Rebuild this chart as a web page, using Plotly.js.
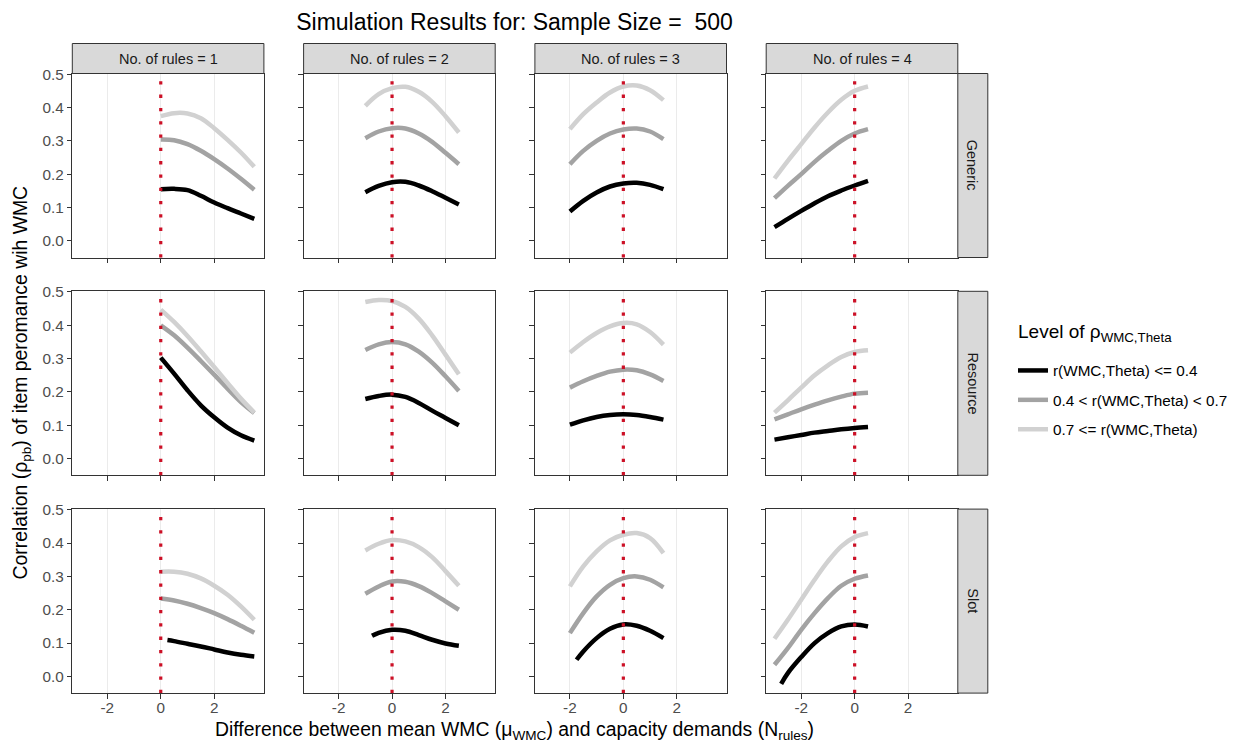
<!DOCTYPE html>
<html>
<head>
<meta charset="utf-8">
<script src="https://cdn.plot.ly/plotly-3.0.1.min.js"></script>
<style>html,body{margin:0;padding:0;background:#fff;}#chart{width:1239px;height:743px;}</style>
</head>
<body>
<div id="chart"></div>
<script>
// ---------- data ----------
const sampleSize = 500;
const rowNames = ['Generic', 'Resource', 'Slot'];
const ruleCounts = [1, 2, 3, 4];
const levelNames = ['r(WMC,Theta) <= 0.4', '0.4 < r(WMC,Theta) < 0.7', '0.7 <= r(WMC,Theta)'];
const levelColors = ['#000000', '#a3a3a3', '#d1d1d1'];
const xTickVals = [-2, 0, 2];
const xTickText = ['-2', '0', '2'];
const yTickVals = [0, 0.1, 0.2, 0.3, 0.4, 0.5];
const yTickText = ['0.0', '0.1', '0.2', '0.3', '0.4', '0.5'];
const capacityLine = 0;

// x grids per number of rules
const col1X = [0, 0.5, 1, 1.5, 2, 2.5, 3, 3.5];
const col2X = [-1, -0.5, 0, 0.5, 1, 1.5, 2, 2.5];
const col3X = [-2, -1.5, -1, -0.5, 0, 0.5, 1, 1.5];
const col4X = [-3, -2.5, -2, -1.5, -1, -0.5, 0, 0.5];
const slot1LowX = [0.25, 0.5, 1, 1.5, 2, 2.5, 3, 3.5];
const slot2LowX = [-0.75, -0.5, 0, 0.5, 1, 1.5, 2, 2.5];
const slot3LowX = [-1.75, -1.5, -1, -0.5, 0, 0.5, 1, 1.5];
const slot4LowX = [-2.75, -2.5, -2, -1.5, -1, -0.5, 0, 0.5];

// Generic
const gen1Low  = [0.155, 0.156, 0.152, 0.135, 0.115, 0.098, 0.082, 0.066];
const gen1Mid  = [0.304, 0.302, 0.290, 0.270, 0.245, 0.217, 0.186, 0.153];
const gen1High = [0.374, 0.383, 0.382, 0.368, 0.338, 0.303, 0.265, 0.222];
const gen2Low  = [0.146, 0.165, 0.176, 0.177, 0.166, 0.149, 0.129, 0.109];
const gen2Mid  = [0.308, 0.328, 0.338, 0.337, 0.322, 0.297, 0.264, 0.230];
const gen2High = [0.405, 0.440, 0.458, 0.462, 0.447, 0.417, 0.374, 0.325];
const gen3Low  = [0.088, 0.120, 0.145, 0.163, 0.172, 0.174, 0.168, 0.155];
const gen3Mid  = [0.230, 0.270, 0.300, 0.322, 0.334, 0.337, 0.328, 0.305];
const gen3High = [0.335, 0.380, 0.415, 0.445, 0.463, 0.466, 0.452, 0.422];
const gen4Low  = [0.041, 0.066, 0.090, 0.113, 0.134, 0.151, 0.166, 0.180];
const gen4Mid  = [0.128, 0.165, 0.200, 0.237, 0.270, 0.300, 0.322, 0.335];
const gen4High = [0.187, 0.240, 0.290, 0.340, 0.385, 0.423, 0.450, 0.463];
// Resource
const res1Low  = [0.303, 0.255, 0.205, 0.160, 0.124, 0.093, 0.070, 0.054];
const res1Mid  = [0.400, 0.370, 0.333, 0.293, 0.252, 0.210, 0.170, 0.137];
const res1High = [0.447, 0.410, 0.368, 0.322, 0.275, 0.227, 0.180, 0.138];
const res2Low  = [0.179, 0.188, 0.192, 0.185, 0.167, 0.144, 0.122, 0.100];
const res2Mid  = [0.326, 0.343, 0.350, 0.343, 0.321, 0.288, 0.247, 0.203];
const res2High = [0.470, 0.476, 0.473, 0.455, 0.420, 0.370, 0.312, 0.253];
const res3Low  = [0.102, 0.115, 0.125, 0.131, 0.133, 0.131, 0.125, 0.117];
const res3Mid  = [0.213, 0.232, 0.248, 0.261, 0.267, 0.265, 0.253, 0.233];
const res3High = [0.318, 0.350, 0.377, 0.397, 0.407, 0.403, 0.380, 0.342];
const res4Low  = [0.057, 0.064, 0.071, 0.078, 0.083, 0.088, 0.092, 0.095];
const res4Mid  = [0.118, 0.133, 0.148, 0.162, 0.175, 0.186, 0.195, 0.198];
const res4High = [0.138, 0.175, 0.213, 0.250, 0.280, 0.305, 0.320, 0.325];
// Slot
const slot1Low  = [0.109, 0.106, 0.098, 0.090, 0.081, 0.072, 0.065, 0.060];
const slot1Mid  = [0.234, 0.228, 0.218, 0.205, 0.190, 0.172, 0.152, 0.131];
const slot1High = [0.314, 0.314, 0.308, 0.294, 0.272, 0.245, 0.210, 0.170];
const slot2Low  = [0.122, 0.131, 0.140, 0.137, 0.124, 0.110, 0.099, 0.092];
const slot2Mid  = [0.248, 0.270, 0.285, 0.284, 0.271, 0.250, 0.225, 0.200];
const slot2High = [0.378, 0.398, 0.409, 0.405, 0.388, 0.358, 0.316, 0.272];
const slot3Low  = [0.050, 0.075, 0.115, 0.143, 0.156, 0.152, 0.137, 0.115];
const slot3Mid  = [0.130, 0.190, 0.240, 0.275, 0.295, 0.300, 0.290, 0.267];
const slot3High = [0.270, 0.330, 0.375, 0.408, 0.425, 0.430, 0.415, 0.370];
const slot4Low  = [-0.022, 0.010, 0.058, 0.100, 0.130, 0.150, 0.156, 0.150];
const slot4Mid  = [0.035, 0.085, 0.140, 0.190, 0.235, 0.272, 0.293, 0.303];
const slot4High = [0.113, 0.170, 0.230, 0.290, 0.345, 0.390, 0.418, 0.430];

// panel table built from the arrays above: [row][col] -> series
const panelData = [
  [
    {xs: [col1X, col1X, col1X], ys: [gen1Low, gen1Mid, gen1High]},
    {xs: [col2X, col2X, col2X], ys: [gen2Low, gen2Mid, gen2High]},
    {xs: [col3X, col3X, col3X], ys: [gen3Low, gen3Mid, gen3High]},
    {xs: [col4X, col4X, col4X], ys: [gen4Low, gen4Mid, gen4High]}
  ],
  [
    {xs: [col1X, col1X, col1X], ys: [res1Low, res1Mid, res1High]},
    {xs: [col2X, col2X, col2X], ys: [res2Low, res2Mid, res2High]},
    {xs: [col3X, col3X, col3X], ys: [res3Low, res3Mid, res3High]},
    {xs: [col4X, col4X, col4X], ys: [res4Low, res4Mid, res4High]}
  ],
  [
    {xs: [slot1LowX, col1X, col1X], ys: [slot1Low, slot1Mid, slot1High]},
    {xs: [slot2LowX, col2X, col2X], ys: [slot2Low, slot2Mid, slot2High]},
    {xs: [slot3LowX, col3X, col3X], ys: [slot3Low, slot3Mid, slot3High]},
    {xs: [slot4LowX, col4X, col4X], ys: [slot4Low, slot4Mid, slot4High]}
  ]
];

// ---------- layout geometry (pixels) ----------
const W = 1239, H = 743;
const FONT = '"Liberation Sans", Arial, Helvetica, sans-serif';
const panelLeft0 = 72.3, panelStepX = 231.3, panelW = 191.6;
const panelTop0 = 73.5, panelStepY = 217.8, panelH = 184;
const stripSize = 30;
const xRange = [-3.31, 3.86];
const yRange = [-0.05, 0.502];
const fx = p => p / W;
const fy = p => 1 - p / H;

const traces = [];
const shapes = [];
const annotations = [];
const layout = {
  width: W, height: H,
  margin: {l: 0, r: 0, t: 0, b: 0},
  paper_bgcolor: '#ffffff',
  plot_bgcolor: '#ffffff',
  font: {family: FONT, color: '#000000'},
  showlegend: true,
  title: {
    text: 'Simulation Results for: Sample Size = \u00a0' + sampleSize,
    x: fx(514.5), xanchor: 'center', xref: 'paper',
    y: fy(21.5), yanchor: 'middle', yref: 'container',
    font: {family: FONT, size: 23, color: '#000000'}
  },
  legend: {
    x: fx(1013), xanchor: 'left', y: fy(354), yanchor: 'top',
    bgcolor: 'rgba(0,0,0,0)',
    font: {family: FONT, size: 15.3, color: '#000000'},
    tracegroupgap: 6.5,
    itemwidth: 30
  }
};

for (let r = 0; r < 3; r++) {
  for (let c = 0; c < 4; c++) {
    const k = r * 4 + c + 1;
    const left = panelLeft0 + c * panelStepX;
    const top = panelTop0 + r * panelStepY;
    const xName = k === 1 ? 'xaxis' : 'xaxis' + k;
    const yName = k === 1 ? 'yaxis' : 'yaxis' + k;
    const xId = k === 1 ? 'x' : 'x' + k;
    const yId = k === 1 ? 'y' : 'y' + k;
    layout[xName] = {
      domain: [fx(left), fx(left + panelW)], anchor: yId,
      range: xRange, tickmode: 'array', tickvals: xTickVals, ticktext: xTickText,
      showticklabels: r === 2, ticks: 'outside', ticklen: 4.5, tickwidth: 1, tickcolor: '#333333',
      ticklabelstandoff: -4,
      tickfont: {family: FONT, size: 15.3, color: '#4d4d4d'},
      showline: true, linecolor: '#333333', linewidth: 1, mirror: true,
      showgrid: true, gridcolor: '#ebebeb', gridwidth: 1, zeroline: false, fixedrange: true
    };
    layout[yName] = {
      domain: [fy(top + panelH), fy(top)], anchor: xId,
      range: yRange, tickmode: 'array', tickvals: yTickVals, ticktext: yTickText,
      showticklabels: c === 0, ticks: 'outside', ticklen: 4.5, tickwidth: 1, tickcolor: '#333333',
      tickfont: {family: FONT, size: 15.3, color: '#4d4d4d'},
      showline: true, linecolor: '#333333', linewidth: 1, mirror: true,
      showgrid: false, zeroline: false, fixedrange: true
    };
    const pd = panelData[r][c];
    for (let s = 0; s < 3; s++) {
      traces.push({
        type: 'scatter', mode: 'lines',
        x: pd.xs[s], y: pd.ys[s],
        xaxis: xId, yaxis: yId,
        name: levelNames[s], legendgroup: 'g' + s, showlegend: k === 1,
        line: {color: levelColors[s], width: 4.5, shape: 'spline', smoothing: 1},
        hoverinfo: 'skip'
      });
    }
    // dotted reference line at zero difference
    shapes.push({
      type: 'line', xref: xId, yref: yId + ' domain',
      x0: capacityLine, x1: capacityLine, y0: 0, y1: 1,
      line: {color: '#cc1026', width: 3.2, dash: '3.3px,10px'}, layer: 'above'
    });
    // top strips
    if (r === 0) {
      shapes.push({
        type: 'rect', xref: 'paper', yref: 'paper',
        x0: fx(left), x1: fx(left + panelW), y0: fy(top), y1: fy(top - stripSize),
        fillcolor: '#d9d9d9', line: {color: '#333333', width: 1}
      });
      annotations.push({
        xref: 'paper', yref: 'paper', x: fx(left + panelW / 2), y: fy(top - stripSize / 2),
        xanchor: 'center', yanchor: 'middle', showarrow: false,
        text: 'No. of rules = ' + ruleCounts[c],
        font: {family: FONT, size: 14.5, color: '#1a1a1a'}
      });
    }
    // right strips
    if (c === 3) {
      shapes.push({
        type: 'rect', xref: 'paper', yref: 'paper',
        x0: fx(left + panelW), x1: fx(left + panelW + stripSize), y0: fy(top + panelH), y1: fy(top),
        fillcolor: '#d9d9d9', line: {color: '#333333', width: 1}
      });
      annotations.push({
        xref: 'paper', yref: 'paper', x: fx(left + panelW + stripSize / 2), y: fy(top + panelH / 2),
        xanchor: 'center', yanchor: 'middle', showarrow: false, textangle: 90,
        text: rowNames[r],
        font: {family: FONT, size: 14.5, color: '#1a1a1a'}
      });
    }
  }
}

// legend title
annotations.push({
  xref: 'paper', yref: 'paper', x: fx(1016), y: fy(333), xanchor: 'left', yanchor: 'middle',
  showarrow: false, text: 'Level of \u03c1<sub>WMC,Theta</sub>',
  font: {family: FONT, size: 19, color: '#000000'}
});
// axis titles
annotations.push({
  xref: 'paper', yref: 'paper', x: fx(514.5), y: fy(730), xanchor: 'center', yanchor: 'middle',
  showarrow: false,
  text: 'Difference between mean WMC (\u03bc<sub>WMC</sub>) and capacity demands (N<sub>rules</sub>)',
  font: {family: FONT, size: 19.4, color: '#000000'}
});
annotations.push({
  xref: 'paper', yref: 'paper', x: fx(20.5), y: fy(383), xanchor: 'center', yanchor: 'middle',
  showarrow: false, textangle: -90,
  text: 'Correlation (\u03c1<sub>pb</sub>) of item peromance wih WMC',
  font: {family: FONT, size: 19.4, color: '#000000'}
});

layout.shapes = shapes;
layout.annotations = annotations;

Plotly.newPlot('chart', traces, layout, {displayModeBar: false, staticPlot: true});
</script>
</body>
</html>
